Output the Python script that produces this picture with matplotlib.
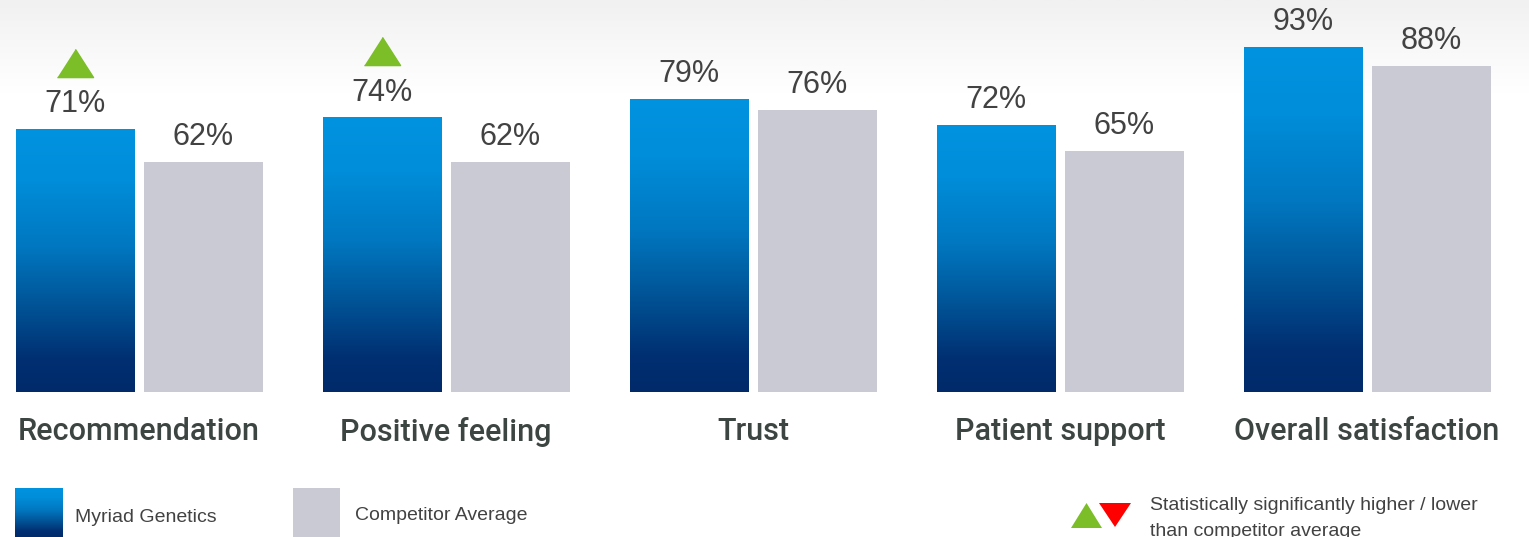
import numpy as np
import matplotlib
matplotlib.use("Agg")
import matplotlib.pyplot as plt
from matplotlib.colors import LinearSegmentedColormap
from matplotlib.patches import Rectangle, Polygon
from matplotlib.transforms import ScaledTranslation

# Survey results: share of respondents (%)
categories = ["Recommendation", "Positive feeling", "Trust", "Patient support", "Overall satisfaction"]
myriad = [71, 74, 79, 72, 93]
competitor = [62, 62, 76, 65, 88]
significant_higher = [True, True, False, False, False]
series_names = ["Myriad Genetics", "Competitor Average"]
note_text = "Statistically significantly higher / lower\nthan competitor average"

W, H = 1529, 537
fig = plt.figure(figsize=(W / 100, H / 100), dpi=100)

# soft grey fade at the top of the slide
bg = fig.add_axes([0, 0, 1, 1], zorder=0)
bg.set_axis_off()
fade = np.linspace(0, 1, 200).reshape(-1, 1)
fade = np.clip(fade / 0.17, 0, 1)
bg_cmap = LinearSegmentedColormap.from_list("fade", ["#F1F1F1", "#FFFFFF"])
bg.imshow(fade, cmap=bg_cmap, aspect="auto", extent=[0, 1, 0, 1], origin="upper")
bg.set_xlim(0, 1)
bg.set_ylim(0, 1)

blue_cmap = LinearSegmentedColormap.from_list(
    "myriad",
    [(0.0, "#002A6A"), (0.12, "#002F71"), (0.35, "#00579A"),
     (0.55, "#0077C0"), (0.8, "#008DD9"), (1.0, "#0093E0")])
grey = "#CACAD4"
text_dark = "#424242"
label_dark = "#3D4543"

ax = fig.add_axes([0, 145 / H, 1, 371 / H], zorder=1)
ax.patch.set_alpha(0)
spacing = 307.0
ax.set_axis_off()

x = np.arange(len(categories))
bw = 119 / spacing
off = 64 / spacing

grad = np.linspace(0, 1, 256).reshape(-1, 1)
bars_m = ax.bar(x - off, myriad, width=bw, color="none", edgecolor="none")
for b in bars_m:
    x0 = b.get_x()
    im = ax.imshow(grad, cmap=blue_cmap, origin="lower", aspect="auto",
                   extent=[x0, x0 + b.get_width(), 0, b.get_height()], zorder=2)
    im.set_clip_path(b)
bars_c = ax.bar(x + off, competitor, width=bw, color=grey, edgecolor="none", zorder=2)
ax.set_xlim(-139 / spacing, (W - 139) / spacing)
ax.set_ylim(0, 100)

value_font = ["Liberation Sans", "DejaVu Sans"]
for xi, v in zip(x - off, myriad):
    ax.annotate(f"{v}%", (xi, v), xytext=(0, 7), textcoords="offset points",
                ha="center", va="bottom", fontsize=22, color=text_dark, family=value_font)
for xi, v in zip(x + off, competitor):
    ax.annotate(f"{v}%", (xi, v), xytext=(0, 7), textcoords="offset points",
                ha="center", va="bottom", fontsize=22, color=text_dark, family=value_font)

# significance markers above the Myriad bars
tri = [(-1, -0.78), (1, -0.78), (0, 0.78)]
lift = ax.transData + ScaledTranslation(0, 0.66, fig.dpi_scale_trans)
for xi, v, sig in zip(x - off, myriad, significant_higher):
    if sig:
        ax.plot([xi], [v], marker=tri, markersize=26, color="#7BBE28",
                linestyle="none", transform=lift, clip_on=False)

cat_font = ["Roboto", "DejaVu Sans"]
for xi, c in zip(x, categories):
    ax.annotate(c, (xi, 0), xytext=(0, -28.5), textcoords="offset points",
                ha="center", va="center", fontsize=22, color=label_dark,
                family=cat_font, fontweight="medium")

# legend
leg_font = ["Liberation Sans", "DejaVu Sans"]
sw1 = fig.add_axes([15 / W, 0, 48 / W, 49 / H], zorder=2)
sw1.set_axis_off()
sw1.imshow(grad, cmap=blue_cmap, origin="lower", aspect="auto", extent=[0, 1, 0, 1])
fig.patches.append(Rectangle((293 / W, 0), 47 / W, 49 / H, transform=fig.transFigure,
                             facecolor=grey, edgecolor="none", zorder=2))
fig.text(75 / W, 1 - 518 / H, series_names[0], ha="left", va="center",
         fontsize=14, color=text_dark, family=leg_font)
fig.text(355 / W, 1 - 515 / H, series_names[1], ha="left", va="center",
         fontsize=14, color=text_dark, family=leg_font)


def px(xp, yp):
    return (xp / W, 1 - yp / H)


fig.patches.append(Polygon([px(1071, 528), px(1102, 528), px(1086.5, 503)], closed=True,
                           transform=fig.transFigure, facecolor="#7BBE28", edgecolor="none", zorder=3))
fig.patches.append(Polygon([px(1099, 503), px(1131, 503), px(1115, 527)], closed=True,
                           transform=fig.transFigure, facecolor="#FF0000", edgecolor="none", zorder=3))
fig.text(1150 / W, 1 - 497 / H, note_text, ha="left", va="top", fontsize=14,
         color=text_dark, family=leg_font, linespacing=1.7)

fig.savefig("out.png", dpi=100)
